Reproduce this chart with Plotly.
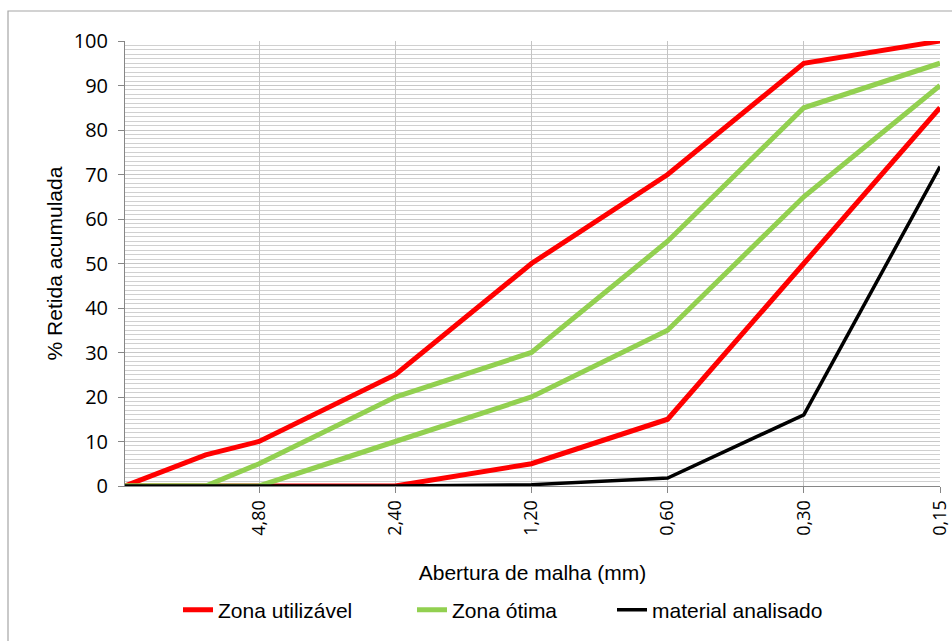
import math
import plotly.graph_objects as go

sizes = [9.5, 6.3, 4.8, 2.4, 1.2, 0.6, 0.3, 0.15]
tick_vals = [4.8, 2.4, 1.2, 0.6, 0.3, 0.15]
tick_text = ["4,80", "2,40", "1,20", "0,60", "0,30", "0,15"]

util_sup = [0, 7, 10, 25, 50, 70, 95, 100]
util_inf = [0, 0, 0, 0, 5, 15, 50, 85]
otima_sup = [0, 0, 5, 20, 30, 55, 85, 95]
otima_inf = [0, 0, 0, 10, 20, 35, 65, 90]
material = [0, 0, 0, 0, 0.3, 1.8, 16, 71.8]

RED = "#FF0000"
GREEN = "#92D050"
BLACK = "#000000"

fig = go.Figure()
fig.add_trace(go.Scatter(x=sizes, y=util_sup, mode="lines", name="Zona utilizável",
                         line=dict(color=RED, width=5), legendgroup="u", legend="legend"))
fig.add_trace(go.Scatter(x=sizes, y=util_inf, mode="lines", name="Zona utilizável",
                         line=dict(color=RED, width=5), legendgroup="u", showlegend=False,
                         legend="legend"))
fig.add_trace(go.Scatter(x=sizes, y=otima_sup, mode="lines", name="Zona ótima",
                         line=dict(color=GREEN, width=5), legendgroup="o", legend="legend2"))
fig.add_trace(go.Scatter(x=sizes, y=otima_inf, mode="lines", name="Zona ótima",
                         line=dict(color=GREEN, width=5), legendgroup="o", showlegend=False,
                         legend="legend2"))
fig.add_trace(go.Scatter(x=sizes, y=material, mode="lines", name="material analisado",
                         line=dict(color=BLACK, width=3.5), legend="legend3"))

L, R, T, B = 125, 12, 41, 155
W, H = 952, 641
pw, ph = W - L - R, H - T - B

def px_x(p):
    return (p - L) / pw

def px_y(p):
    return (H - B - p) / ph

fig.add_shape(type="rect", xref="paper", yref="paper",
              x0=px_x(8), x1=px_x(990), y0=px_y(700), y1=px_y(11),
              line=dict(color="#A6A6A6", width=1.2), fillcolor="rgba(0,0,0,0)", layer="below")

leg_font = dict(family="Liberation Sans", size=21, color="black")

def leg(xpx):
    return dict(orientation="h", x=px_x(xpx), xanchor="left", y=px_y(610), yanchor="middle",
                font=leg_font, bgcolor="rgba(0,0,0,0)")

fig.update_layout(
    width=W, height=H,
    margin=dict(l=L, r=R, t=T, b=B, autoexpand=False),
    paper_bgcolor="white", plot_bgcolor="white",
    showlegend=True,
    legend=leg(178),
    legend2=leg(412),
    legend3=leg(612),
    xaxis=dict(
        type="log",
        range=[math.log10(9.5), math.log10(0.15)],
        tickmode="array", tickvals=tick_vals, ticktext=tick_text,
        tickangle=-90, automargin=False,
        tickfont=dict(family="Open Sans", size=18, color="black"),
        showgrid=True, gridcolor="#C4C4C4", gridwidth=1,
        showline=True, linecolor="#868686", linewidth=1,
        ticks="outside", ticklen=6, tickcolor="#868686",
        zeroline=False,
        title=dict(text="Abertura de malha (mm)", standoff=30,
                   font=dict(family="Liberation Sans", size=21, color="black")),
    ),
    yaxis=dict(
        range=[0, 100], dtick=10, automargin=False,
        tickfont=dict(family="Open Sans", size=20, color="black"),
        ticklabelstandoff=6,
        showgrid=True, gridcolor="#C8C8C8", gridwidth=1,
        minor=dict(dtick=1, showgrid=True, gridcolor="#D0D0D0", gridwidth=1),
        showline=True, linecolor="#868686", linewidth=1,
        ticks="outside", ticklen=6, tickcolor="#868686",
        zeroline=False,
        title=dict(text="% Retida acumulada", standoff=5,
                   font=dict(family="Liberation Sans", size=21, color="black")),
    ),
)

fig.write_html("out.html")
